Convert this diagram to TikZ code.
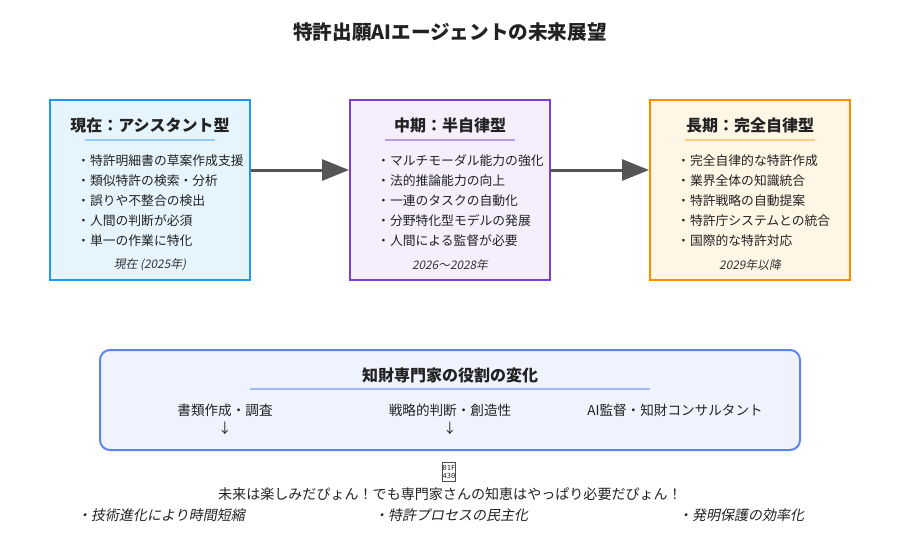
\documentclass[tikz,border=0pt]{standalone}
\usepackage{fontspec}
\setmainfont{Noto Sans CJK JP}
\newfontfamily\itfont{Noto Sans CJK JP}[FakeSlant=0.2]
\newfontfamily\tofufont{DejaVu Sans Mono}
\usetikzlibrary{arrows.meta}
\definecolor{blueB}{HTML}{2196F3}
\definecolor{blueF}{HTML}{E6F4FE}
\definecolor{blueL}{HTML}{90CAF9}
\definecolor{purB}{HTML}{7B3FD4}
\definecolor{purF}{HTML}{F5EFFD}
\definecolor{purL}{HTML}{B79CE8}
\definecolor{oraB}{HTML}{FB8C00}
\definecolor{oraF}{HTML}{FFF6E6}
\definecolor{oraL}{HTML}{FFCC80}
\definecolor{roleB}{HTML}{5C85EC}
\definecolor{roleF}{HTML}{EEF3FE}
\definecolor{roleL}{HTML}{A3B8FA}
\definecolor{txt}{HTML}{222222}
\definecolor{arrgray}{HTML}{555555}
\begin{document}
\begin{tikzpicture}[x=1pt,y=-1pt,
  every node/.style={inner sep=0pt, text=txt},
  maintitle/.style={font=\fontsize{19.6}{23}\selectfont\bfseries},
  stagebox/.style={minimum width=200pt, minimum height=180pt, line width=2pt},
  stagetitle/.style={font=\fontsize{16}{19}\selectfont\bfseries},
  uline/.style={line width=2pt},
  item/.style={anchor=west, font=\fontsize{12.8}{15}\selectfont},
  foot/.style={font=\fontsize{11.8}{14}\selectfont\itfont, text=black!80},
  flow/.style={arrgray, line width=3pt, -{Triangle[length=27pt, width=21pt]}},
  rolebox/.style={minimum width=700pt, minimum height=100pt, rounded corners=10pt, line width=2pt, draw=roleB, fill=roleF},
  roletitle/.style={font=\fontsize{16}{19}\selectfont\bfseries},
  roleitem/.style={font=\fontsize{13.6}{16}\selectfont},
  msg/.style={font=\fontsize{14.05}{17}\selectfont},
  note/.style={font=\fontsize{14}{16}\selectfont\itfont}
]
\useasboundingbox[fill=white] (0,0) rectangle (900,550);

\node[maintitle] (title) at (450,32) {特許出願AIエージェントの未来展望};

% stage 1
\node[stagebox, draw=blueB, fill=blueF] (b1) at (150,190) {};
\node[stagetitle] (b1t) at (150,125) {現在：アシスタント型};
\coordinate (b1la) at (85,140); \coordinate (b1lb) at (215,140);
\draw[uline, blueL] (b1la) -- (b1lb);
\foreach \t [count=\i] in {・特許明細書の草案作成支援,・類似特許の検索・分析,・誤りや不整合の検出,・人間の判断が必須,・単一の作業に特化}
  \node[item] (b1i\i) at (77,141+20*\i) {\t};
\node[foot] (b1f) at (150,265) {現在 (2025年)};

% stage 2
\node[stagebox, draw=purB, fill=purF] (b2) at (450,190) {};
\node[stagetitle] (b2t) at (450,125) {中期：半自律型};
\coordinate (b2la) at (385,140); \coordinate (b2lb) at (515,140);
\draw[uline, purL] (b2la) -- (b2lb);
\foreach \t [count=\i] in {・マルチモーダル能力の強化,・法的推論能力の向上,・一連のタスクの自動化,・分野特化型モデルの発展,・人間による監督が必要}
  \node[item] (b2i\i) at (377,141+20*\i) {\t};
\node[foot] (b2f) at (450,265) {2026〜2028年};

% stage 3
\node[stagebox, draw=oraB, fill=oraF] (b3) at (750,190) {};
\node[stagetitle] (b3t) at (750,125) {長期：完全自律型};
\coordinate (b3la) at (685,140); \coordinate (b3lb) at (815,140);
\draw[uline, oraL] (b3la) -- (b3lb);
\foreach \t [count=\i] in {・完全自律的な特許作成,・業界全体の知識統合,・特許戦略の自動提案,・特許庁システムとの統合,・国際的な特許対応}
  \node[item] (b3i\i) at (677,141+20*\i) {\t};
\node[foot] (b3f) at (750,265) {2029年以降};

% flow arrows
\draw[flow] (b1.east |- 0,170) -- (b2.west |- 0,170);
\draw[flow] (b2.east |- 0,170) -- (b3.west |- 0,170);

% roles
\node[rolebox] (rb) at (450,400) {};
\node[roletitle] (rbt) at (450,375) {知財専門家の役割の変化};
\coordinate (rla) at (250,389); \coordinate (rlb) at (650,389);
\draw[uline, roleL] (rla) -- (rlb);
\node[roleitem] (r1) at (225,410) {書類作成・調査};
\node[roleitem] (r2) at (450,410) {戦略的判断・創造性};
\node[roleitem] (r3) at (675,410) {AI監督・知財コンサルタント};
\node[roleitem] (a1) at (225,428) {↓};
\node[roleitem] (a2) at (450,428) {↓};

% message
\node[draw=black!70, line width=0.7pt, minimum width=13pt, minimum height=19pt, align=center,
      font=\fontsize{7}{8}\selectfont\tofufont, text=black!85] (tofu) at (449,472) {01F\\430};
\node[msg] (m) at (450,494) {未来は楽しみだぴょん！でも専門家さんの知恵はやっぱり必要だぴょん！};
\node[note] (n1) at (161,515) {・技術進化により時間短縮};
\node[note] (n2) at (451,515) {・特許プロセスの民主化};
\node[note] (n3) at (741,515) {・発明保護の効率化};
\end{tikzpicture}
\end{document}
